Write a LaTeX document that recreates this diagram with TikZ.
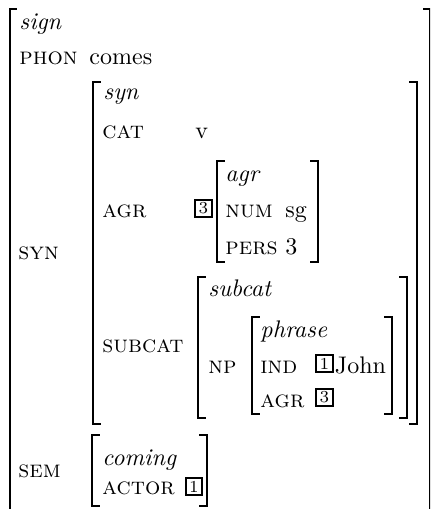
\documentclass[tikz,border=0pt]{standalone}
\begin{document}
\begin{tikzpicture}[x=0.41667pt,y=-0.41667pt,
  lbl/.style={anchor=base west, inner sep=0pt, font=\normalsize},
  feat/.style={lbl, font=\scshape},
  typ/.style={lbl, font=\itshape},
  tagbox/.style={draw, line width=0.85pt, inner sep=0pt, minimum width=7.0pt, minimum height=7.3pt, font=\scriptsize},
  brk/.style={line width=0.85pt, line join=miter, line cap=rect}]
\useasboundingbox (0,0) rectangle (430,509);
\begin{scope}
\clip (0,0) rectangle (430,509);
% outer sign
\draw[brk] (16,9) -- (10,9) -- (10,530);
\draw[brk] (424,9) -- (430,9) -- (430,530);
\end{scope}
% syn
\draw[brk] (100,82) -- (93,82) -- (93,424) -- (100,424);
\draw[brk] (410,82) -- (417,82) -- (417,424) -- (410,424);
% agr
\draw[brk] (224,161) -- (217,161) -- (217,262) -- (224,262);
\draw[brk] (311,161) -- (318,161) -- (318,262) -- (311,262);
% subcat
\draw[brk] (205,277) -- (198,277) -- (198,418) -- (205,418);
\draw[brk] (400,277) -- (407,277) -- (407,418) -- (400,418);
% phrase
\draw[brk] (259,317) -- (252,317) -- (252,414) -- (259,414);
\draw[brk] (385,317) -- (392,317) -- (392,414) -- (385,414);
% sem
\draw[brk] (99,435) -- (92,435) -- (92,506) -- (99,506);
\draw[brk] (200,435) -- (207,435) -- (207,506) -- (200,506);

\node[typ] (sign) at (19,30) {sign};
\node[feat] (phon) at (19,65) {phon};
\node[lbl] (comes) at (89,65) {comes};
\node[feat] (syn) at (18,260) {syn};
\node[feat] (sem) at (18,477) {sem};

\node[typ] (syntype) at (103,100) {syn};
\node[feat] (cat) at (102,139) {cat};
\node[lbl] (v) at (195,139) {v};
\node[feat] (agr) at (102,218) {agr};
\node[tagbox] (tagA) at (203.5,208.5) {3};
\node[typ] (agrtype) at (225,182) {agr};
\node[feat] (num) at (225,218) {num};
\node[lbl] (sg) at (285,218) {sg};
\node[feat] (pers) at (225,255) {pers};
\node[lbl] (three) at (285,255) {3};

\node[feat] (subcat) at (102,353) {subcat};
\node[typ] (subcattype) at (208,297) {subcat};
\node[feat] (np) at (208,373) {np};
\node[typ] (phrase) at (260,337) {phrase};
\node[feat] (ind) at (260,373) {ind};
\node[tagbox] (tagB) at (324.5,363.5) {1};
\node[lbl] (john) at (334.5,373) {John};
\node[feat] (agr2) at (260,407) {agr};
\node[tagbox] (tagC) at (324.5,397.5) {3};

\node[typ] (coming) at (102,465) {coming};
\node[feat] (actor) at (102,494) {actor};
\node[tagbox] (tagD) at (194,486.5) {1};
\end{tikzpicture}
\end{document}
